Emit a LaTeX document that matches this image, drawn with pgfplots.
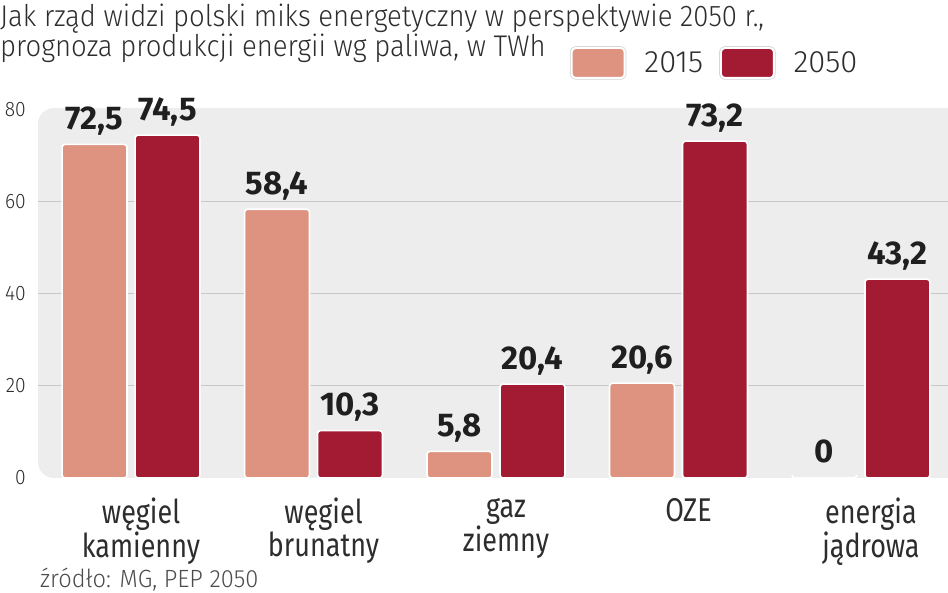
\documentclass[border=0pt]{standalone}
\usepackage{pgfplots}
\pgfplotsset{compat=1.18}
\usepackage{fontspec}
\setmainfont{Fira Sans Light}[FakeStretch=0.92]
\newfontfamily\catfont{Fira Sans}[FakeStretch=0.82]
\newfontfamily\numfont{Fira Sans Bold}

\definecolor{c2015}{RGB}{221,147,127}
\definecolor{c2050}{RGB}{163,27,50}
\definecolor{bgc}{RGB}{237,237,237}
\definecolor{gridc}{RGB}{200,200,200}
\definecolor{txt}{RGB}{45,45,45}

\begin{document}
\begin{tikzpicture}
% title
\node[anchor=base west, inner sep=0pt, text=txt, font=\fontsize{30}{32}\selectfont]
  at (0bp,566bp) {Jak rząd widzi polski miks energetyczny w perspektywie 2050 r.,};
\node[anchor=base west, inner sep=0pt, text=txt, font=\fontsize{30}{32}\selectfont]
  at (0bp,536bp) {prognoza produkcji energii wg paliwa, w TWh};
% source
\node[anchor=base west, inner sep=0pt, text=txt!85, font=\fontsize{25}{27}\selectfont\addfontfeatures{FakeStretch=0.95}]
  at (40bp,6bp) {źródło: MG, PEP 2050};

\begin{axis}[
    set layers,
    at={(38bp,115bp)}, anchor=south west,
    scale only axis, width=910bp, height=370bp,
    ybar, bar width=0.356,
    xmin=-0.51, xmax=4.477, ymin=0, ymax=80.4,
    axis line style={draw=none},
    major tick length=0pt,
    xtick=data,
    xticklabels={węgiel\\kamienny, węgiel\\brunatny, gaz\\ziemny, OZE, energia\\jądrowa},
    xticklabel style={align=center, anchor=north, inner sep=0pt, yshift=-20bp, xshift=10bp,
        text=txt, font=\catfont\fontsize{33}{29}\selectfont},
    ytick={20,40,60},
    extra y ticks={0,80},
    extra y tick style={grid=none},
    ymajorgrids, grid style={gridc, line width=1bp},
    yticklabel style={anchor=east, inner sep=0pt, xshift=-12bp, text=txt,
        font=\fontsize{21}{22}\selectfont, /pgf/number format/assume math mode=true},
    /pgf/number format/assume math mode=true,
    point meta=explicit symbolic,
    nodes near coords,
    every node near coord/.append style={anchor=base, inner sep=0pt, yshift=15bp,
        text=black!88, font=\numfont\fontsize{33}{33}\selectfont},
    every axis plot/.append style={draw=white, line width=1.6bp, rounded corners=3bp},
    legend style={draw=none, fill=none, at={(0.5846,1.1216)}, anchor=west,
        legend columns=-1, inner sep=0pt, outer sep=0pt,
        font=\fontsize{31}{32}\selectfont\addfontfeatures{FakeStretch=1.0}, text=txt,
        /tikz/every odd column/.style={column sep=16bp},
        /tikz/every even column/.style={column sep=14bp}},
    legend image code/.code={
        \draw[gray!35, line width=3.5bp, rounded corners=4bp] (0bp,-15bp) rectangle (53bp,15bp);
        \draw[#1, draw=white, line width=2bp, rounded corners=4bp] (0bp,-15bp) rectangle (53bp,15bp);},
]
\begin{pgfonlayer}{axis background}
\fill[bgc, rounded corners=16bp] (axis cs:-0.51,0) rectangle (axis cs:4.7,80.4);
\end{pgfonlayer}

\addplot[fill=c2015, bar shift=-0.2] coordinates {
    (0,72.5) [72,5]
    (1,58.4) [58,4]
    (2,5.8)  [5,8]
    (3,20.6) [20,6]
    (4,0)    [0]
};
\addplot[fill=c2050, bar shift=0.2] coordinates {
    (0,74.5) [74,5]
    (1,10.3) [10,3]
    (2,20.4) [20,4]
    (3,73.2) [73,2]
    (4,43.2) [43,2]
};
\legend{2015, 2050}
\end{axis}
\pgfresetboundingbox
\path (0bp,0bp) rectangle (948bp,593bp);
\end{tikzpicture}
\end{document}
